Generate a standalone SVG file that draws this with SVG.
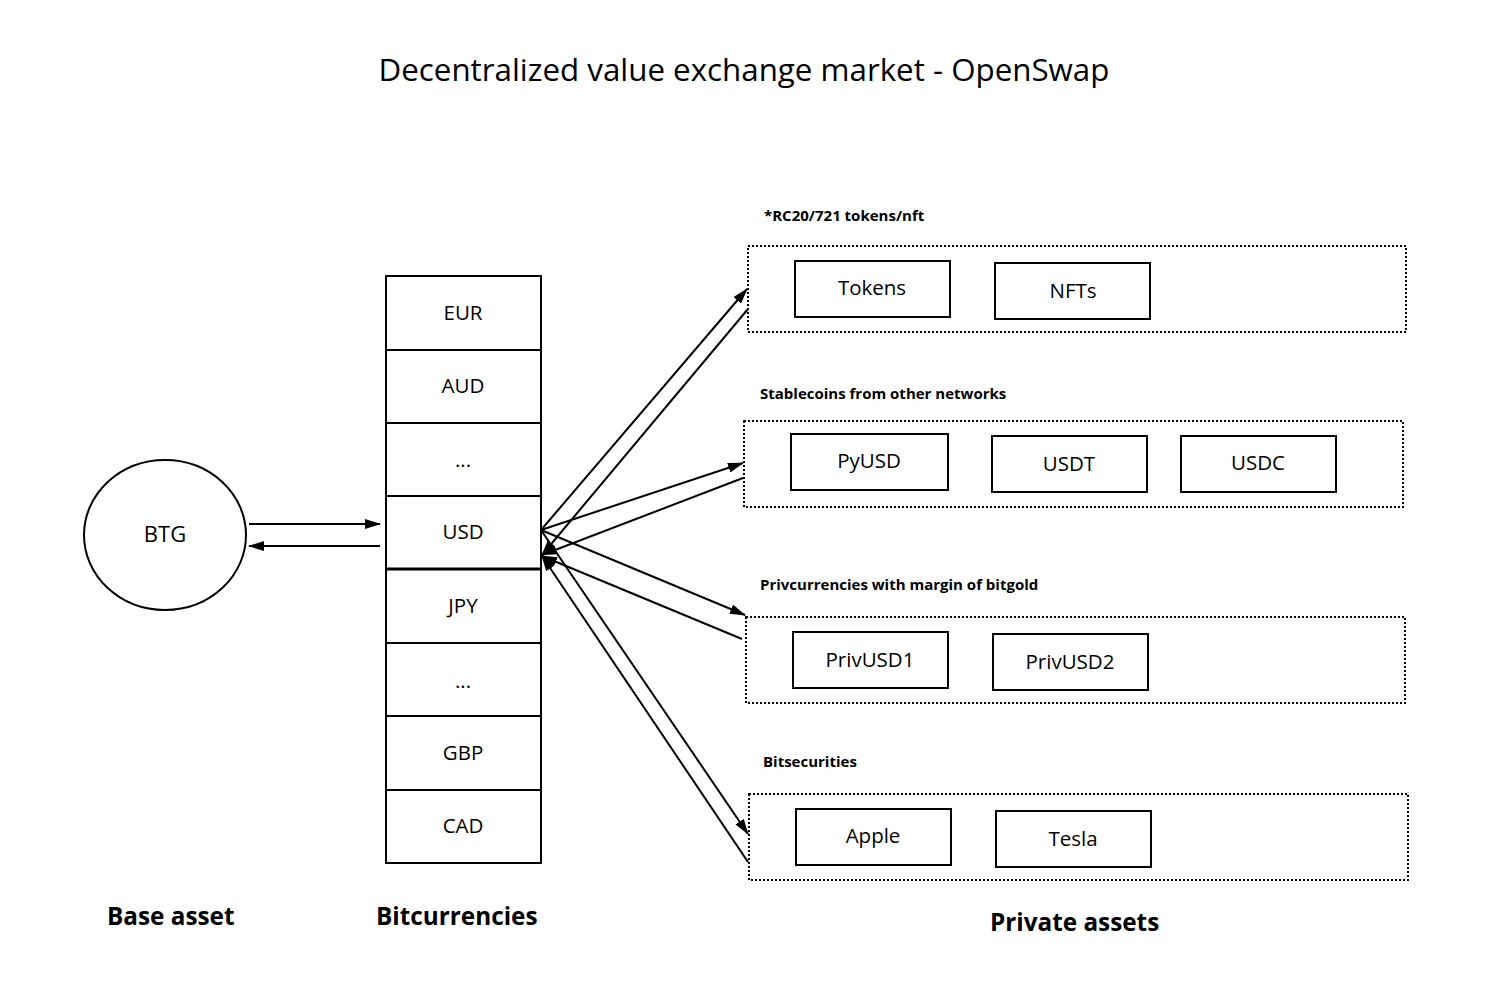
<svg xmlns="http://www.w3.org/2000/svg" width="1497" height="1003" viewBox="0 0 1497 1003">
<style>
text{font-family:"Open Sans","Noto Sans","DejaVu Sans",sans-serif;fill:#000}
.lbl{font-size:20.5px;text-anchor:middle}
.grp{font-size:15px;font-weight:bold}
.big{font-size:24.3px;font-weight:bold}
.box{fill:#fff;stroke:#000;stroke-width:2}
.dot{fill:none;stroke:#000;stroke-width:2;stroke-dasharray:2 2}
.ln{stroke:#000;stroke-width:2;fill:none;marker-end:url(#ah)}
</style>
<defs>
<marker id="ah" markerUnits="userSpaceOnUse" markerWidth="16" markerHeight="10" refX="15" refY="5" orient="auto">
<path d="M0,0 L16,5 L0,10 Z" fill="#000"/>
</marker>
</defs>
<rect width="1497" height="1003" fill="#fff"/>
<text x="744" y="81" style="font-size:31.3px;text-anchor:middle">Decentralized value exchange market - OpenSwap</text>

<g id="btg"><ellipse cx="165" cy="535" rx="81" ry="75" fill="#fff" stroke="#000" stroke-width="2"/><text class="lbl" x="165" y="542" style="font-size:22px">BTG</text></g>

<g id="bitcurrencies">
<g id="eur"><rect class="box" x="386" y="276" width="155" height="74"/><text class="lbl" x="463" y="320">EUR</text></g>
<g id="aud"><rect class="box" x="386" y="350" width="155" height="73"/><text class="lbl" x="463" y="393">AUD</text></g>
<g id="dots1"><rect class="box" x="386" y="423" width="155" height="73"/><text class="lbl" x="463" y="467">...</text></g>
<g id="usd"><rect class="box" x="386" y="496" width="155" height="73"/><text class="lbl" x="463" y="539">USD</text></g>
<g id="jpy"><rect class="box" x="386" y="569" width="155" height="74"/><text class="lbl" x="463" y="613">JPY</text></g>
<g id="dots2"><rect class="box" x="386" y="643" width="155" height="73"/><text class="lbl" x="463" y="688">...</text></g>
<g id="gbp"><rect class="box" x="386" y="716" width="155" height="74"/><text class="lbl" x="463" y="760">GBP</text></g>
<g id="cad"><rect class="box" x="386" y="790" width="155" height="73"/><text class="lbl" x="463" y="833">CAD</text></g>
<line x1="386" y1="569" x2="541" y2="569" stroke="#000" stroke-width="3"/>
</g>

<g id="grp-tokens">
<text class="grp" x="764" y="221">*RC20/721 tokens/nft</text>
<rect class="dot" x="748" y="246" width="658" height="86"/>
<g id="tokens"><rect class="box" x="795" y="261" width="155" height="56"/><text class="lbl" x="872" y="295">Tokens</text></g>
<g id="nfts"><rect class="box" x="995" y="263" width="155" height="56"/><text class="lbl" x="1073" y="298">NFTs</text></g>
</g>

<g id="grp-stable">
<text class="grp" x="760" y="399">Stablecoins from other networks</text>
<rect class="dot" x="744" y="421" width="659" height="86"/>
<g id="pyusd"><rect class="box" x="791" y="434" width="157" height="56"/><text class="lbl" x="869" y="468">PyUSD</text></g>
<g id="usdt"><rect class="box" x="992" y="436" width="155" height="56"/><text class="lbl" x="1069" y="471">USDT</text></g>
<g id="usdc"><rect class="box" x="1181" y="436" width="155" height="56"/><text class="lbl" x="1258" y="470">USDC</text></g>
</g>

<g id="grp-priv">
<text class="grp" x="760" y="590">Privcurrencies with margin of bitgold</text>
<rect class="dot" x="746" y="617" width="659" height="86"/>
<g id="privusd1"><rect class="box" x="793" y="632" width="155" height="56"/><text class="lbl" x="870" y="667">PrivUSD1</text></g>
<g id="privusd2"><rect class="box" x="993" y="634" width="155" height="56"/><text class="lbl" x="1070" y="669">PrivUSD2</text></g>
</g>

<g id="grp-sec">
<text class="grp" x="763" y="767">Bitsecurities</text>
<rect class="dot" x="749" y="794" width="659" height="86"/>
<g id="apple"><rect class="box" x="796" y="809" width="155" height="56"/><text class="lbl" x="873" y="843">Apple</text></g>
<g id="tesla"><rect class="box" x="996" y="811" width="155" height="56"/><text class="lbl" x="1073" y="846">Tesla</text></g>
</g>

<g id="connectors">
<line class="ln" x1="249" y1="524" x2="380" y2="524"/>
<line class="ln" x1="380" y1="546" x2="249" y2="546"/>
<line class="ln" x1="541" y1="530" x2="747" y2="289"/>
<line class="ln" x1="748" y1="309" x2="542" y2="555"/>
<line class="ln" x1="541" y1="530" x2="743" y2="463"/>
<line class="ln" x1="743" y1="478" x2="542" y2="555"/>
<line class="ln" x1="541" y1="530" x2="745" y2="615"/>
<line class="ln" x1="742" y1="639" x2="542" y2="556"/>
<line class="ln" x1="541" y1="530" x2="748" y2="834"/>
<line class="ln" x1="748" y1="862" x2="542" y2="556"/>
</g>

<text class="big" x="107" y="925">Base asset</text>
<text class="big" x="376" y="925">Bitcurrencies</text>
<text class="big" x="990" y="931">Private assets</text>
</svg>
